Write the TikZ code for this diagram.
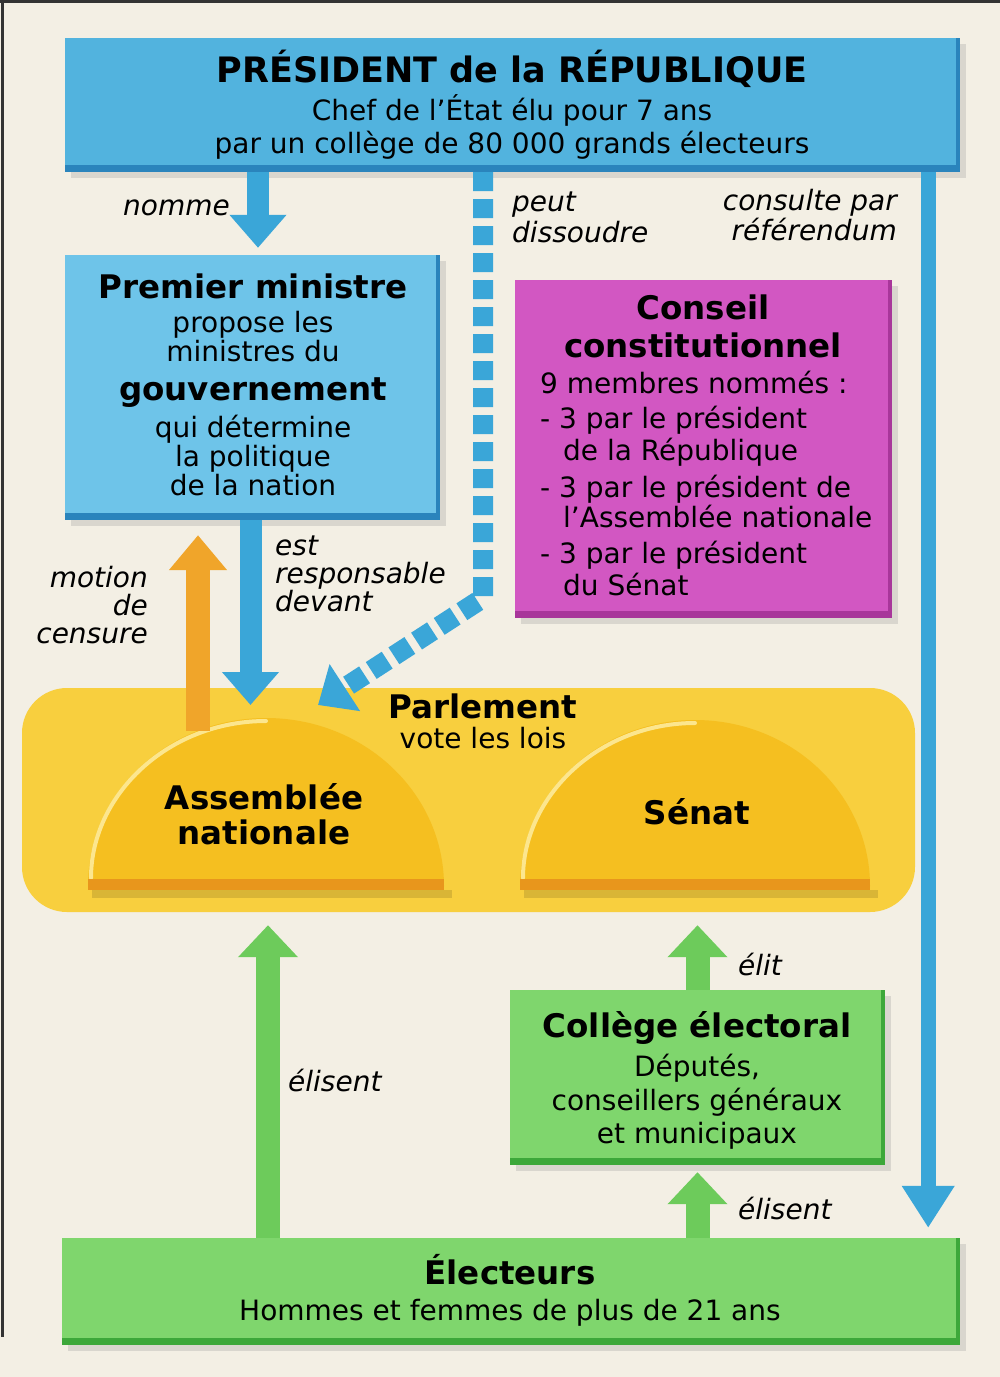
\documentclass[tikz,border=0pt]{standalone}
\usepackage{fontspec}
\setmainfont{DejaVu Sans}
\usetikzlibrary{arrows.meta,shadows,calc}
\definecolor{bg}{HTML}{F3EFE4}
\definecolor{presblue}{HTML}{52B3DE}
\definecolor{pmblue}{HTML}{6EC4E9}
\definecolor{blueedge}{HTML}{2A84BC}
\definecolor{arrblue}{HTML}{3AA6D8}
\definecolor{magenta}{HTML}{D257C2}
\definecolor{magedge}{HTML}{A8369A}
\definecolor{parlyel}{HTML}{F8CF3E}
\definecolor{domeyel}{HTML}{F5BF20}
\definecolor{domeedge}{HTML}{E8961C}
\definecolor{domehi}{HTML}{FCE68E}
\definecolor{orarr}{HTML}{F0A52A}
\definecolor{gbox}{HTML}{7FD66D}
\definecolor{gedge}{HTML}{3DA83A}
\definecolor{garr}{HTML}{6DCB5B}
\newcommand\boxedges[2]{%
  \fill[#2] (#1.south west) rectangle ($(#1.south east)+(0,-7)$);
  \fill[#2] (#1.south east) rectangle ($(#1.north east)+(-4,0)$);}
\tikzset{
  boxshape/.style={rectangle, inner sep=0pt, draw=none,
    drop shadow={opacity=0.22, shadow xshift=6pt, shadow yshift=-6pt}},
  t/.style={anchor=base, inner sep=0pt, font=\fontsize{28}{33}\selectfont},
  tl/.style={t, anchor=base west},
  tb/.style={anchor=base, inner sep=0pt, font=\fontsize{32.5}{38}\selectfont\bfseries},
  lab/.style={anchor=base west, inner sep=0pt, font=\fontsize{28}{30}\selectfont\itshape},
  labr/.style={lab, anchor=base east},
  barrow/.style={draw=arrblue, line width=22pt, -{Triangle[width=55pt,length=33pt]}},
  oarrow/.style={draw=orarr, line width=24pt, -{Triangle[width=56pt,length=35pt]}},
  garrow/.style={draw=garr, line width=24pt, -{Triangle[width=58pt,length=32pt]}},
  tarrow/.style={draw=arrblue, line width=15pt, -{Triangle[width=50pt,length=42pt]}},
  darrow/.style={draw=arrblue, line width=20pt, dash pattern=on 19pt off 8pt,
    line join=miter, -{Triangle[width=54pt,length=32pt]}},
}
\begin{document}
\begin{tikzpicture}[x=1pt,y=-1pt]
\useasboundingbox (0,0) rectangle (1000,1377);
\fill[bg] (0,0) rectangle (1000,1377);
\fill[black!80] (0,0) rectangle (1000,3);
\fill[black!80] (1,0) rectangle (4,1337);

% ---------- Parlement ----------
\node[rectangle, fill=parlyel, rounded corners=45pt, minimum width=893pt, minimum height=224pt] (parl) at (468.5,800) {};

% domes
\fill[black, opacity=0.12] (92,890) rectangle (452,898);
\fill[domeyel] (88,886) .. controls (88,793.2) and (167.7,718) .. (266,718)
  .. controls (364.3,718) and (444,793.2) .. (444,886) -- cycle;
\draw[domehi, line width=4pt, line cap=round] (91,878) .. controls (91,795) and (168,721) .. (266,721);
\fill[domeedge] (88,879) rectangle (444,890);

\fill[black, opacity=0.12] (524,890) rectangle (878,898);
\fill[domeyel] (520,886) .. controls (520,794.3) and (598.3,720) .. (695,720)
  .. controls (791.7,720) and (870,794.3) .. (870,886) -- cycle;
\draw[domehi, line width=4pt, line cap=round] (523,878) .. controls (523,796) and (599,723) .. (695,723);
\fill[domeedge] (520,879) rectangle (870,890);

\coordinate (antop) at (266,718);
\coordinate (ancen) at (198,731);
\coordinate (andiss) at (318,705);
\coordinate (dcorner) at (483,598);

\node[tb] (parlt) at (483,718) {Parlement};
\node[t] (parls) at (483,748) {vote les lois};
\node[tb] (an1) at (264,809) {Assemblée};
\node[tb] (an2) at (264,844) {nationale};
\node[tb] (sen) at (697,824) {Sénat};

% ---------- Président ----------
\node[boxshape, fill=presblue, minimum width=895pt, minimum height=134pt] (pres) at (512.5,105) {};
\boxedges{pres}{blueedge}
\node[anchor=base, inner sep=0pt, font=\fontsize{35}{40}\selectfont\bfseries] (prest) at (512,82) {PRÉSIDENT de la RÉPUBLIQUE};
\node[t] (pres1) at (512,120) {Chef de l’État élu pour 7 ans};
\node[t] (pres2) at (512,153) {par un collège de 80 000 grands électeurs};

% ---------- Premier ministre ----------
\node[boxshape, fill=pmblue, minimum width=375pt, minimum height=265pt] (pm) at (252.5,387.5) {};
\boxedges{pm}{blueedge}
\node[tb] (pm1) at (253,298) {Premier ministre};
\node[t] (pm2) at (253,332) {propose les};
\node[t] (pm3) at (253,361) {ministres du};
\node[tb] (pm4) at (253,400) {gouvernement};
\node[t] (pm5) at (253,437) {qui détermine};
\node[t] (pm6) at (253,466) {la politique};
\node[t] (pm7) at (253,495) {de la nation};

% ---------- Conseil constitutionnel ----------
\node[boxshape, fill=magenta, minimum width=377pt, minimum height=338pt] (cc) at (703.5,449) {};
\boxedges{cc}{magedge}
\node[tb] (cc1) at (703,319) {Conseil};
\node[tb] (cc2) at (703,357) {constitutionnel};
\node[tl] (cc3) at (540,393) {9 membres nommés :};
\node[tl] (cc4) at (540,428) {- 3 par le président};
\node[tl] (cc5) at (563,460) {de la République};
\node[tl] (cc6) at (540,497) {- 3 par le président de};
\node[tl] (cc7) at (563,527) {l’Assemblée nationale};
\node[tl] (cc8) at (540,563) {- 3 par le président};
\node[tl] (cc9) at (563,595) {du Sénat};

% ---------- Collège électoral ----------
\node[boxshape, fill=gbox, minimum width=375pt, minimum height=175pt] (coll) at (697.5,1077.5) {};
\boxedges{coll}{gedge}
\node[tb] (co1) at (697,1037) {Collège électoral};
\node[t] (co2) at (697,1076) {Députés,};
\node[t] (co3) at (697,1110) {conseillers généraux};
\node[t] (co4) at (697,1143) {et municipaux};

% ---------- Électeurs ----------
\node[boxshape, fill=gbox, minimum width=898pt, minimum height=107pt] (elec) at (511,1291.5) {};
\boxedges{elec}{gedge}
\node[tb] (el1) at (510,1284) {Électeurs};
\node[t] (el2) at (510,1320) {Hommes et femmes de plus de 21 ans};

% ---------- connectors ----------
\draw[barrow] ($(pm.north |- pres.south)+(5.5,0)$) -- ($(pm.north)+(5.5,-7)$);
\draw[barrow] ($(pm.south)+(-2,0)$) -- ($(pm.south |- antop)+(-2,-13)$);
\draw[oarrow] (ancen) -- ($(ancen |- pm.south)+(0,15)$);
\draw[darrow] (pres.south -| dcorner) -- (dcorner) -- (andiss);
\draw[tarrow] ($(pres.south east)+(-32,0)$) -- ($(elec.north east)+(-32,-10)$);
\draw[garrow] ($(elec.north)+(-243,0)$) -- ($(parl.south)+(-200.5,13)$);
\draw[garrow] (coll.north) -- ($(coll.north |- parl.south)+(0,13)$);
\draw[garrow] (elec.north -| coll.south) -- ($(coll.south)+(0,7)$);

% ---------- labels ----------
\node[labr] (lnom) at (230,215) {nomme};
\node[lab] (ldis1) at (512,211) {peut};
\node[lab] (ldis2) at (512,242) {dissoudre};
\node[labr] (lref1) at (897,210) {consulte par};
\node[labr] (lref2) at (897,240) {référendum};
\node[lab] (lres1) at (275,555) {est};
\node[lab] (lres2) at (275,583) {responsable};
\node[lab] (lres3) at (275,611) {devant};
\node[labr] (lmot1) at (148,587) {motion};
\node[labr] (lmot2) at (148,615) {de};
\node[labr] (lmot3) at (148,643) {censure};
\node[lab] (lel1) at (288,1091) {élisent};
\node[lab] (lelit) at (738,975) {élit};
\node[lab] (lel2) at (738,1219) {élisent};
\end{tikzpicture}
\end{document}
